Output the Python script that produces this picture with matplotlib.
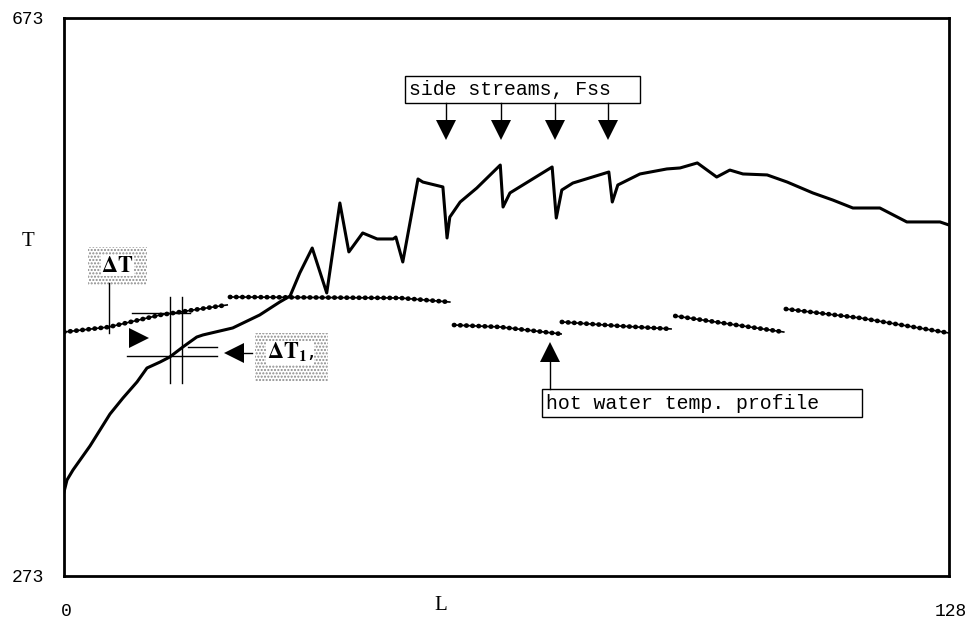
# -*- coding: utf-8 -*-
import matplotlib
matplotlib.use('Agg')
import matplotlib.pyplot as plt
from matplotlib.patches import Rectangle

plt.rcParams['mathtext.fontset'] = 'stix'

# solid temperature profile along L
solid_L = [0, 0.43, 1.3, 3.76, 6.65, 8.53, 10.56, 12.0, 13.9, 15.3, 17.2, 19.2, 20.1,
           24.4, 28.3, 31.2, 32.7, 34.1, 35.9, 38.0, 39.9, 41.2, 43.2, 45.3, 47.6, 48.0,
           49.0, 51.2, 51.9, 54.8, 55.4, 55.8, 57.3, 59.7, 63.1, 63.5, 64.5, 70.6, 71.2,
           72.0, 73.6, 78.8, 79.3, 80.1, 83.3, 87.2, 89.1, 91.6, 94.4, 96.3, 98.2, 101.7,
           104.6, 108.3, 111.2, 114.1, 118.0, 121.9, 126.7, 128.0]
solid_T = [333.2, 341.8, 349.0, 366.2, 389.1, 400.6, 412.1, 422.1, 426.4, 430.0, 437.2,
           444.3, 445.8, 450.8, 460.1, 469.4, 473.7, 490.2, 508.1, 475.9, 540.4, 505.3,
           518.9, 514.6, 514.6, 516.0, 498.1, 557.6, 555.4, 551.9, 515.3, 530.3, 541.1,
           551.1, 567.6, 537.5, 547.6, 566.2, 529.6, 549.7, 554.7, 562.6, 541.1, 553.3,
           561.2, 564.8, 565.5, 569.1, 559.0, 564.0, 561.2, 560.5, 555.4, 547.6, 542.5,
           536.8, 536.8, 526.8, 526.8, 524.6]

# hot water temperature profile, one piece per section
hw_L = [[0, 6.5, 13.9, 18.7, 23.6],
        [24.0, 48.6, 55.8],
        [56.4, 63.1, 71.9],
        [72.0, 80.4, 87.8],
        [88.4, 104.1],
        [104.4, 115.1, 128.0]]
hw_T = [[447.9, 451.5, 460.1, 463.7, 467.3],
        [473.0, 472.3, 469.4],
        [452.9, 451.5, 446.5],
        [455.1, 452.2, 450.1],
        [459.4, 447.9],
        [464.4, 458.0, 447.2]]

# side stream injection points
side_L = [55.25, 63.2, 71.0, 78.7]

mono = 'Liberation Mono'
serif = 'Liberation Serif'

fig = plt.figure(figsize=(9.73, 6.22), dpi=100)
ax = fig.add_axes([64 / 973, 1 - 576 / 622, 885 / 973, 558 / 622])
ax.set_xlim(0, 128)
ax.set_ylim(273, 673)
ax.set_xticks([])
ax.set_yticks([])
for s in ax.spines.values():
    s.set_linewidth(2)

# curves
ax.plot(solid_L, solid_T, color='black', lw=2.2, solid_joinstyle='round')
for xs, ys in zip(hw_L, hw_T):
    ax.plot(xs, ys, color='black', lw=1.2)
    ax.plot(xs, ys, color='black', lw=3.4, linestyle=(0, (0.1, 1.2)),
            dash_capstyle='round')

# side streams label and arrows
ax.text(49.9, 621.5, 'side streams, Fss', family=mono, fontsize=14.3,
        va='center', ha='left', zorder=5)
ax.add_patch(Rectangle((49.3, 612.1), 34.0, 19.3, fill=False, lw=1, zorder=4))
for x in side_L:
    ax.plot([x, x], [612.1, 595], color='black', lw=1)
    ax.plot(x, 592.7, marker='v', color='black', markersize=15, markeredgewidth=0)

# hot water label and arrow
ax.add_patch(Rectangle((69.1, 387.0), 46.3, 20.0, fill=False, lw=1, zorder=4))
ax.text(69.7, 396.8, 'hot water temp. profile', family=mono, fontsize=14.3,
        va='center', ha='left', zorder=5)
ax.plot([70.3, 70.3], [407.0, 430], color='black', lw=1)
ax.plot(70.3, 433.6, marker='^', color='black', markersize=15, markeredgewidth=0)

# delta T annotation
ax.add_patch(Rectangle((3.5, 481.6), 8.5, 27.2, facecolor='none', edgecolor='#8a8a8a',
                       lw=0, hatch='.....', zorder=1))
ax.text(7.7, 495.5, r'$\mathbf{\Delta T}$', fontsize=16, ha='center', va='center',
        zorder=5, bbox=dict(facecolor='white', edgecolor='none', pad=0.3))
ax.plot([6.5, 6.5], [483.0, 447.2], color='black', lw=1)
ax.plot([9.8, 18.2], [461.5, 461.5], color='black', lw=1)
ax.plot([15.3, 15.3], [473.0, 411.3], color='black', lw=1)
ax.plot([17.1, 17.1], [473.0, 411.3], color='black', lw=1)
ax.plot(10.8, 443.6, marker='>', color='black', markersize=14, markeredgewidth=0)
ax.plot([9.1, 22.1], [430.7, 430.7], color='black', lw=1)
ax.plot([17.9, 22.1], [437.2, 437.2], color='black', lw=1)
ax.plot(24.6, 432.9, marker='<', color='black', markersize=15, markeredgewidth=0)
ax.plot([25.5, 27.2], [432.9, 432.9], color='black', lw=1)

# delta T1 annotation
ax.add_patch(Rectangle((27.6, 412.1), 10.6, 35.1, facecolor='none', edgecolor='#8a8a8a',
                       lw=0, hatch='.....', zorder=1))
ax.text(32.7, 433.0, r'$\mathbf{\Delta T_1}$,', fontsize=16, ha='center', va='center',
        zorder=5, bbox=dict(facecolor='white', edgecolor='none', pad=0.3))

# axis labels and range labels
fig.text(28 / 973, 1 - 19 / 622, '673', family=mono, fontsize=13, ha='center', va='center')
fig.text(28 / 973, 1 - 578 / 622, '273', family=mono, fontsize=13, ha='center', va='center')
fig.text(66 / 973, 1 - 612 / 622, '0', family=mono, fontsize=13, ha='center', va='center')
fig.text(951 / 973, 1 - 612 / 622, '128', family=mono, fontsize=13, ha='center', va='center')
fig.text(28 / 973, 1 - 241 / 622, 'T', family=serif, fontsize=15, ha='center', va='center')
fig.text(441 / 973, 1 - 605 / 622, 'L', family=serif, fontsize=15, ha='center', va='center')

fig.savefig('out.png', dpi=100)
